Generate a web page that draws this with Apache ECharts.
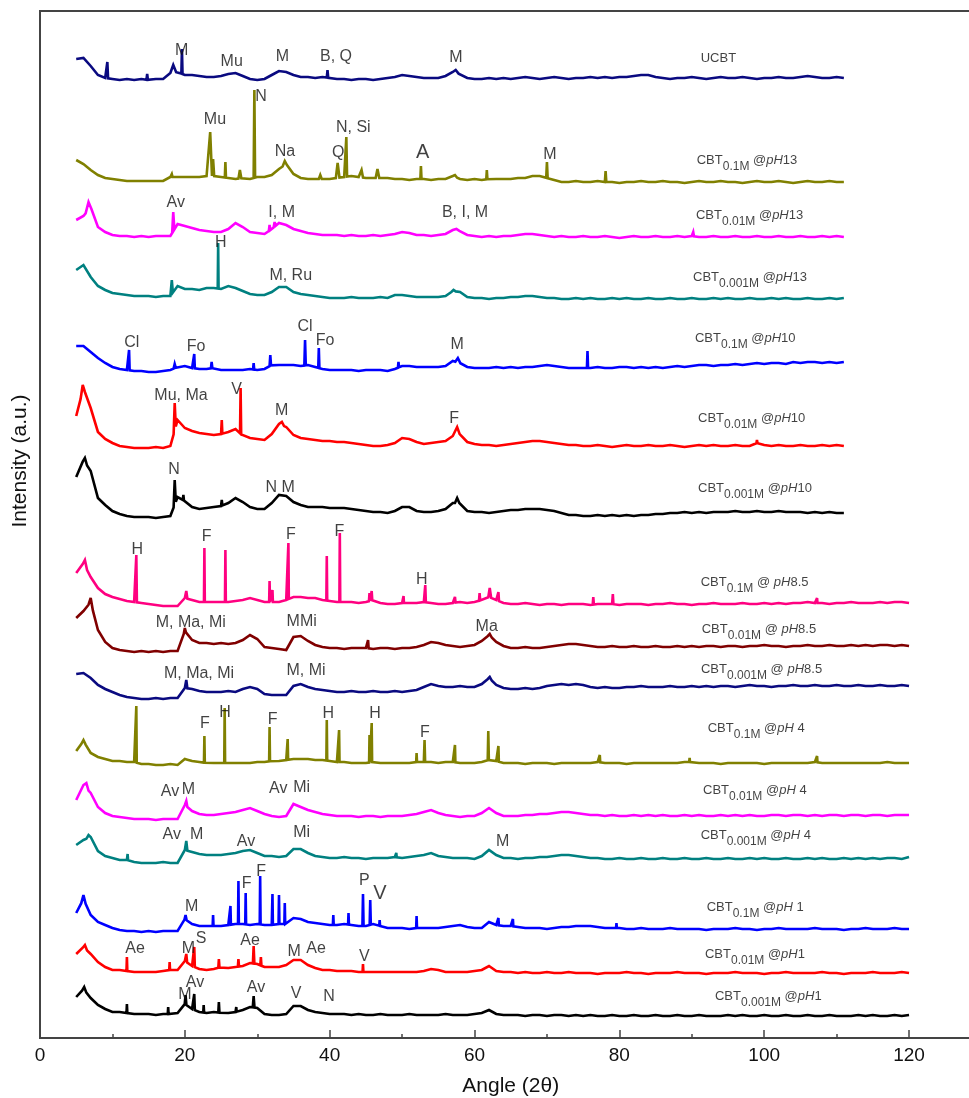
<!DOCTYPE html>
<html><head><meta charset="utf-8">
<script src="https://cdn.jsdelivr.net/npm/echarts@6/dist/echarts.min.js"></script>
<style>html,body{margin:0;padding:0;background:#fff}#c{width:969px;height:1098px}</style>
</head><body><div id="c"></div>
<script>
// ---------------- DATA ----------------
// sample names (top to bottom)
const sampleConc = [null,'0.1M','0.01M','0.001M','0.1M','0.01M','0.001M','0.1M','0.01M','0.001M','0.1M','0.01M','0.001M','0.1M','0.01M','0.001M'];
const samplePH   = [null,'13','13','13','10','10','10','8.5','8.5','8.5',' 4',' 4',' 4',' 1','1','1'];
// vertical stacking level (a.u.) of each trace
const stackLevel = [960,856,801,739,670,592,525,435,392,352,275,223,180,109,65,22];
// first angle of every intensity list (deg 2θ), step 1°
const firstAngle = 5;
// intensities (a.u., relative to stack level) at 5°,6°,7°,...
const i_UCBT = [19,20,12,3,0,-1,-2,-1,-2,-1, -2,-1,-1,5,6,3,3,2,1,1, 2,4,5,2,-1,-2,-1,3,7,6, 3,1,1,0,1,0,-1,-1,-2,-1, -1,-2,-1,0,1,3,2,1,0,0, 0,2,6,4,0,-1,-1,0,-1,0, -1,0,1,0,-1,0,1,0,-1,0, 0,1,0,1,0,1,1,2,3,3, 1,0,-1,0,0,1,0,-1,0,1, 0,0,1,0,-1,0,0,1,0,0, 1,2,1,0,0,1,0];
const i_13a = [22,18,12,7,4,3,2,1,1,1, 1,1,1,5,5,5,5,5,6,6, 5,4,3,4,3,5,5,7,13,18, 8,4,3,3,3,3,4,5,6,5, 4,4,4,4,3,3,2,3,3,2, 3,3,6,3,2,3,2,3,3,3, 3,4,4,6,6,4,2,0,0,1, 0,0,1,0,0,-1,0,0,1,0, 0,1,0,0,-1,0,1,0,0,1, 0,0,-1,0,1,0,0,1,0,-1, 0,1,0,0,1,0,0];
const i_13b = [17,21,30,10,5,2,1,1,0,1, 0,1,1,1,13,11,9,7,6,5, 5,8,14,10,5,4,3,8,14,12, 8,6,4,3,2,2,2,1,2,1, 1,2,1,2,3,5,4,2,2,1, 2,3,7,6,2,1,0,1,0,1, 1,2,3,3,2,1,0,1,0,0, 1,0,0,1,0,-1,0,1,0,0, 1,0,0,1,0,1,0,0,1,0, 0,1,0,0,1,0,0,1,0,0, 1,0,0,1,0,1,0];
const i_13c = [29,34,22,13,9,6,5,4,3,3, 3,2,3,3,13,10,10,9,11,11, 10,13,11,8,5,4,4,7,12,12, 7,5,4,3,2,1,1,1,2,1, 1,1,2,1,4,4,3,2,2,2, 2,3,8,7,2,1,1,0,1,1, 2,2,3,3,2,1,1,0,0,1, 0,1,0,0,1,0,1,0,0,1, 0,0,1,0,0,1,0,0,1,0, 1,0,0,1,0,0,1,0,1,0, 0,1,0,0,1,0,1];
const i_10a = [22,22,16,10,5,1,-1,-2,-3,-3, -4,-4,-3,-2,1,2,0,-1,-1,0, -2,-2,-2,-2,-1,-2,-1,3,3,3, 3,2,3,1,-1,-2,-2,-2,-2,-3, -2,-2,-2,-3,-1,2,2,1,1,1, 1,2,7,5,1,0,0,0,1,0, 1,0,1,1,2,3,2,1,0,0, 0,0,1,0,0,1,1,0,1,0, 1,0,1,2,1,2,3,3,2,3, 3,4,3,4,5,4,5,5,4,6, 5,6,6,5,6,5,6];
const i_10b = [30,58,38,14,7,3,0,-1,-2,-2, -2,-1,-2,0,26,18,15,13,12,11, 12,14,17,10,8,7,6,12,22,19, 11,8,7,6,5,5,4,4,3,2, 1,0,0,1,3,8,7,4,2,3, 4,5,10,12,4,2,1,1,0,1, 2,3,4,5,5,4,3,2,1,1, 0,0,1,0,-1,0,1,0,0,1, 0,0,1,0,-1,0,1,0,1,0, 0,1,0,0,3,1,0,1,0,0, 1,0,0,1,0,1,0];
const i_10c = [36,53,42,15,8,2,-1,-3,-4,-4, -4,-5,-4,-3,16,12,6,4,5,6, 7,10,15,11,6,4,4,10,18,17, 11,8,6,6,6,5,5,5,4,3, 2,1,1,0,2,6,6,2,1,1, 2,4,10,10,2,1,1,0,1,2, 3,3,4,4,4,3,2,0,-2,-2, -3,-3,-2,-3,-2,-3,-2,-3,-2,-2, -1,-1,0,0,1,0,1,0,1,1, 1,2,1,1,2,1,1,2,1,1, 1,0,1,0,1,0,0];
const i_85a = [30,40,26,15,9,6,4,2,1,0, -1,-2,-3,-3,-3,5,3,1,1,1, 1,1,2,3,5,3,1,1,1,3, 6,6,5,5,3,2,1,1,1,0, 1,3,0,-1,-1,0,0,0,1,0, -1,-1,0,1,0,1,3,6,3,0, -1,-1,0,-1,-2,-1,-1,-2,-1,-1, -1,-2,-1,-1,-1,-2,-1,-1,-1,-2, -1,-1,0,-1,-1,-2,-1,-1,0,-1, -1,-1,0,-1,-1,0,-1,0,-1,0, 0,1,0,0,-1,0,0,1,0,0, 0,1,0,1,1,0];
const i_85b = [28,35,44,16,4,-2,-4,-5,-6,-5, -6,-5,-6,-5,-5,15,6,3,3,2, 3,2,3,6,11,7,-1,-2,-3,-4, 9,10,5,1,-1,-2,-2,-3,-2,-2, -2,-3,-2,-2,-3,-2,-2,-1,1,4, 3,1,0,-1,0,1,5,11,4,0, -2,-2,-1,-2,-2,-1,0,1,2,2, 1,0,-1,-1,0,-1,-1,0,-1,-1, 0,-1,-1,0,-1,0,-1,0,0,-1, 0,0,-1,0,0,1,0,0,-1,0, 0,1,0,0,1,0,0,1,0,1, 0,1,1,0,1,0];
const i_85c = [12,13,8,1,-3,-6,-9,-11,-12,-13, -13,-12,-13,-12,-12,-2,-3,-5,-6,-6, -6,-5,-6,-3,-1,-3,-8,-9,-9,-9, 0,2,-1,-3,-4,-5,-6,-6,-5,-6, -6,-5,-6,-6,-5,-6,-5,-4,-1,2, 0,-1,-1,0,-1,-1,2,8,1,-2, -3,-3,-2,-3,-2,0,1,2,1,2, 1,-1,-2,-1,-2,-2,-1,-1,0,-1, -1,-1,0,-1,-1,0,-1,0,-1,0, 0,-1,0,1,0,0,-1,0,0,1, 0,0,1,0,0,1,0,0,1,0, 0,1,0,0,1,0];
const i_4a = [12,22,10,6,4,2,2,1,1,-1, -1,-2,-2,-1,-2,4,2,1,0,0, 0,0,0,0,0,1,1,2,2,3, 4,4,4,3,3,2,1,1,0,0, 0,1,0,0,0,0,0,1,1,1, 0,1,1,0,0,0,1,3,2,0, 0,0,-1,0,0,0,-1,0,0,0, 0,0,1,0,0,0,-1,0,0,0, 0,0,0,0,1,1,0,0,0,-1, 0,0,0,0,0,-1,0,0,0,0, 0,0,1,0,0,0,0,0,0,0, 0,0,1,0,0,0];
const i_4b = [15,30,22,8,2,-1,-2,-3,-4,-4, -4,-5,-4,-4,-4,10,4,1,0,0, 1,2,3,5,7,4,1,-1,-2,-1, 11,8,5,3,1,0,-1,-1,-1,-2, -1,-1,-2,-1,-1,-1,0,1,3,5, 2,0,-1,-2,-1,-1,2,7,2,-1, -1,-1,0,0,1,1,2,3,3,2, 1,0,0,-1,0,-1,-1,0,-1,0, -1,0,-1,-1,0,-1,0,-1,-1,0, -1,0,-1,0,-1,-1,0,0,-1,0, 0,-1,0,-1,0,0,-1,0,0,-1, 0,0,-1,0,0,0];
const i_4c = [13,18,21,7,2,0,-2,-2,-4,-5, -5,-5,-4,-5,-5,8,6,4,3,3, 3,4,5,7,8,5,2,2,1,2, 9,9,5,2,1,0,0,1,0,0, -1,0,0,0,1,0,1,2,3,5, 2,1,0,0,0,-1,2,8,3,0, 0,-1,0,0,1,1,2,3,3,2, 1,0,0,-1,-1,0,-1,-1,0,-1, -1,0,-1,-1,0,-1,-1,0,-1,-1, 0,-1,-1,0,-1,0,-1,-1,0,-1, -1,0,-1,0,-1,-1,0,-1,0,-1, 0,-1,0,0,-1,1];
const i_1a = [16,30,14,7,4,1,-1,-2,-2,-3, -2,-3,-2,-2,-2,10,5,3,3,3, 3,4,5,5,4,5,4,4,5,5, 11,10,7,6,5,4,4,5,4,3, 3,5,3,1,1,1,0,1,1,1, 1,2,3,4,2,1,1,7,4,3, 3,2,1,1,1,0,1,2,2,3, 3,3,2,1,1,1,0,0,1,0, 0,0,1,0,0,0,0,-1,0,0, 0,1,0,0,-1,0,0,1,0,0, 0,0,1,0,0,0,-1,0,0,1, 0,0,0,1,0,0];
const i_1b = [19,26,19,11,6,3,3,2,1,1, 1,1,2,3,3,12,7,4,3,4, 6,5,6,7,10,9,6,6,6,8, 13,13,8,5,3,3,2,2,2,1, 1,1,1,1,1,1,1,1,2,4, 3,1,1,1,1,2,3,7,2,1, 1,0,1,0,0,1,0,0,1,0, 0,0,-1,0,0,0,1,0,0,-1, 0,0,0,1,0,0,0,-1,0,0, 0,1,0,0,0,-1,0,0,1,0, 0,0,0,1,0,0,-1,0,0,0, 1,0,0,0,1,0];
const i_1c = [19,27,18,11,7,4,4,3,2,2, 2,1,2,2,3,12,7,4,3,4, 3,3,4,6,9,8,2,1,1,2, 10,10,6,4,3,2,2,2,1,2, 1,1,2,1,1,1,2,1,1,1, 1,2,1,1,1,2,3,6,2,1, 1,1,0,1,1,0,1,1,0,1, 0,1,0,0,1,0,0,1,0,0, 1,0,0,1,0,0,1,0,0,0, 1,0,1,0,0,1,0,0,1,0, 0,1,0,0,1,0,0,0,1,0, 1,0,0,1,0,1];
// sharp reflections: [angle 2θ, apex intensity, half width in °]
const p_UCBT = [[9.3,16,0.1],[14.8,4,0.1],[18.4,13,0.4],[19.6,29,0.08],[39.7,8,0.1],[57.4,8,0.4]];
const p_13a = [[18.2,8,0.1],[23.5,50,0.25],[23.9,23,0.15],[25.6,20,0.08],[27.6,12,0.2],[29.6,92,0.1],[33.8,21,0.3],[38.7,7,0.2],[41.1,19,0.25],[42.3,45,0.1],[44.4,12,0.2],[46.6,13,0.25],[52.6,16,0.08],[57.3,7,0.3],[61.7,12,0.08],[70,20,0.1],[78.1,11,0.1]];
const p_13b = [[6.7,35,0.4],[18.4,25,0.15],[31.7,12,0.1],[32.4,15,0.15],[57.5,8,0.4],[90.2,5,0.1]];
const p_13c = [[18.2,19,0.15],[24.6,56,0.06],[57.1,9,0.3]];
const p_10a = [[12.3,18,0.08],[18.6,4,0.15],[21.3,14,0.08],[23.7,6,0.1],[29.5,5,0.08],[31.8,13,0.1],[36.6,28,0.1],[38.5,20,0.08],[49.5,6,0.08],[57.7,10,0.35],[75.6,17,0.08]];
const p_10b = [[5.9,61,0.3],[18.6,43,0.15],[25.1,26,0.08],[27.7,58,0.08],[33.4,24,0.3],[57.6,19,0.35],[99,6,0.08]];
const p_10c = [[6.2,55,0.3],[18.6,33,0.15],[19.8,18,0.08],[25.1,13,0.08],[57.6,15,0.3]];
const p_85a = [[6.2,43,0.3],[13.3,48,0.08],[20.2,12,0.15],[22.7,55,0.06],[25.6,53,0.06],[31.7,22,0.06],[32.1,13,0.06],[34.3,60,0.06],[39.6,47,0.06],[41.4,70,0.06],[45.5,10,0.08],[45.8,12,0.08],[50.2,7,0.06],[53.2,18,0.08],[57.3,6,0.08],[60.7,10,0.08],[62.1,15,0.2],[63.3,11,0.08],[76.4,6,0.08],[79.1,9,0.08],[107.3,5,0.06]];
const p_85b = [[7,48,0.3],[20,18,0.15],[45.3,6,0.08],[62.1,12,0.3]];
const p_85c = [[20.2,6,0.15],[62.1,9,0.3]];
const p_4a = [[6,23,0.3],[13.3,57,0.06],[20.2,5,0.15],[22.7,27,0.06],[25.5,55,0.06],[31.7,36,0.06],[34.2,24,0.06],[39.6,43,0.06],[41.3,33,0.06],[45.5,28,0.06],[45.8,40,0.06],[52,10,0.06],[53.1,23,0.08],[57.3,18,0.06],[61.9,32,0.08],[63.3,17,0.06],[77.3,8,0.06],[89.7,5,0.06],[107.3,7,0.06]];
const p_4b = [[6.4,32,0.3],[20.2,14,0.15]];
const p_4c = [[6.7,23,0.3],[12.1,4,0.06],[20.2,17,0.15],[49.2,5,0.06]];
const p_1a = [[6,34,0.3],[20.1,14,0.15],[23.9,14,0.06],[26.3,23,0.06],[27.4,48,0.06],[28.4,36,0.06],[30.4,53,0.06],[32.1,35,0.06],[33,34,0.06],[33.8,26,0.06],[40.5,14,0.06],[42.6,16,0.06],[44.6,35,0.08],[45.6,29,0.08],[46.9,9,0.06],[52,13,0.06],[63.3,11,0.06],[65.3,10,0.06],[79.6,6,0.06]];
const p_1b = [[6.2,28,0.3],[12,16,0.06],[17.9,11,0.06],[20.2,19,0.12],[21.3,26,0.08],[24.7,14,0.08],[27.4,14,0.08],[29.5,27,0.1],[30.5,16,0.08],[44.6,9,0.06]];
const p_1c = [[6.1,29,0.3],[12,12,0.06],[17.7,9,0.06],[20.1,21,0.12],[21.3,22,0.08],[22.6,11,0.06],[24.7,14,0.08],[27.1,9,0.06],[29.5,20,0.12]];
// phase labels: [text, angle, level]
const peakLabels = [
['M',19.57,987],['Mu',26.47,976],['M',33.46,981],['B, Q',40.87,981],['M',57.44,980],
['N',30.52,941],['Mu',24.16,918],['N, Si',43.26,910],['Na',33.83,886],['Q',41.19,885],['A',52.84,886],['M',70.42,883],
['Av',18.74,835],['I, M',33.37,825],['B, I, M',58.69,825],
['H',24.95,795],['M, Ru',34.62,762],
['Cl',12.66,695],['Fo',21.54,691],['Cl',36.59,711],['Fo',39.35,697],['M',57.62,693],
['Mu, Ma',19.47,642],['V',27.16,648],['M',33.37,627],['F',57.17,619],
['N',18.5,568],['N M',33.15,550],
['H',13.44,488],['F',23.02,501],['F',34.66,503],['F',41.33,506],['H',52.71,458],
['M, Ma, Mi',20.82,415],['MMi',36.14,416],['Ma',61.68,411],
['M, Ma, Mi',21.96,364],['M, Mi',36.73,367],
['H',25.55,325],['F',22.78,314],['F',32.13,318],['H',39.81,324],['H',46.26,324],['F',53.16,305],
['Av',17.95,246],['M',20.48,248],['Av',32.9,249],['Mi',36.14,250],
['Av',18.19,203],['M',21.64,203],['Av',28.45,196],['Mi',36.14,205],['M',63.89,196],
['F',28.54,154],['F',30.52,166],['P',44.78,157],['V',46.95,145],['M',20.95,131],
['Ae',13.12,89],['M',20.48,89],['S',22.23,99],['Ae',29.0,97],['M',35.11,86],['Ae',38.11,89],['V',44.78,81],
['M',20.02,43],['Av',21.4,55],['Av',29.83,50],['V',35.35,44],['N',39.91,41]
];
// sample label anchors: [angle, level]
const sampleLabelAt = [[91.23,980],[90.68,878],[90.58,823],[90.17,761],[90.44,700],[90.86,620],[90.86,550],[91.23,456],[91.37,409],[91.27,369],[92.2,310],[91.55,248],[91.23,203],[92.06,131],[91.82,84],[93.2,42]];
const xTicks = [0,20,40,60,80,100,120];

// ---------------- BUILD ----------------
const intens = [i_UCBT,i_13a,i_13b,i_13c,i_10a,i_10b,i_10c,i_85a,i_85b,i_85c,i_4a,i_4b,i_4c,i_1a,i_1b,i_1c];
const peaks  = [p_UCBT,p_13a,p_13b,p_13c,p_10a,p_10b,p_10c,p_85a,p_85b,p_85c,p_4a,p_4b,p_4c,p_1a,p_1b,p_1c];
const colors = ['#0a0a80','#808000','#ff00ff','#008080','#0000ff','#ff0000','#000000','#ff0080','#800000','#0a0a80','#808000','#ff00ff','#008080','#0000ff','#ff0000','#000000'];

function traceData(vals, pk, lvl) {
  const at = x => { const t = x - firstAngle; const i = Math.max(0, Math.min(vals.length - 2, Math.floor(t))); const f = t - i; return vals[i] + (vals[i+1] - vals[i]) * f; };
  let pts = vals.map((v, i) => [firstAngle + i, v]).filter(([x]) => !pk.some(([a, h, w]) => x > a - w && x < a + w));
  pk.forEach(([a, h, w]) => { pts.push([a - w, at(a - w)], [a, h], [a + w, at(a + w)]); });
  pts.sort((p, q) => p[0] - q[0]);
  return pts.map(([x, y]) => [x, y + lvl]);
}

const FONT = 'Liberation Sans, Arial, sans-serif';
const series = intens.map((v, k) => ({
  type: 'line', data: traceData(v, peaks[k], stackLevel[k]), showSymbol: false, symbol: 'none',
  lineStyle: { color: colors[k], width: 2.6, join: 'miter', miterLimit: 4 }, z: 2, animation: false, silent: true
}));

series.push({
  type: 'scatter', symbolSize: 0, silent: true, z: 5, animation: false,
  data: peakLabels.map(([t, x, y]) => ({ value: [x, y], name: t,
    label: { fontSize: (t === 'A' || (t === 'V' && x > 46)) ? 20 : 16 } })),
  label: { show: true, position: 'inside', formatter: p => p.name, color: '#111', fontFamily: FONT, fontSize: 16 }
});

const sampleText = sampleConc.map((c, k) => c === null ? 'UCBT' :
  'CBT{s|' + c + '} @' + (samplePH[k] === '8.5' ? ' ' : '') + '{i|pH}' + samplePH[k]);
series.push({
  type: 'scatter', symbolSize: 0, silent: true, z: 5, animation: false,
  data: sampleLabelAt.map(([x, y], k) => ({ value: [x, y], name: sampleText[k] })),
  label: { show: true, position: 'right', distance: 0, formatter: p => p.name, color: '#111', fontFamily: FONT, fontSize: 13,
    rich: { s: { fontSize: 12, fontFamily: FONT, color: '#111', padding: [13, 0, 0, 0] },
            i: { fontSize: 13, fontFamily: FONT, fontStyle: 'italic', color: '#111' } } }
});

const chart = echarts.init(document.getElementById('c'), null, { renderer: 'canvas' });
chart.setOption({
  animation: false,
  backgroundColor: '#fff',
  grid: { left: 40, top: 11, width: 941.46, height: 1027, show: true, borderColor: '#444', borderWidth: 2, outerBoundsMode: 'none', containLabel: false },
  xAxis: {
    type: 'value', min: 0, max: 130, interval: 20,
    name: 'Angle (2θ)', nameLocation: 'middle', nameGap: 38,
    nameTextStyle: { fontSize: 21, color: '#111', fontFamily: FONT },
    axisLine: { lineStyle: { color: '#444', width: 2 } },
    axisTick: { inside: true, length: 8, lineStyle: { color: '#444', width: 1.5 } },
    minorTick: { show: true, splitNumber: 2, length: 4, lineStyle: { color: '#444', width: 1.5 } },
    axisLabel: { fontSize: 19, color: '#111', fontFamily: FONT, margin: 8,
      formatter: v => xTicks.includes(v) ? String(v) : '' },
    splitLine: { show: false }
  },
  yAxis: {
    type: 'value', min: 0, max: 1027,
    axisLine: { show: true, lineStyle: { color: '#444', width: 2 } },
    axisTick: { show: false }, axisLabel: { show: false }, splitLine: { show: false }
  },
  graphic: [{
    type: 'text', x: 20, y: 461, rotation: Math.PI / 2,
    style: { text: 'Intensity (a.u.)', font: '21px ' + FONT, fill: '#111', align: 'center', verticalAlign: 'middle' }
  }],
  series
});
</script>
</body></html>
